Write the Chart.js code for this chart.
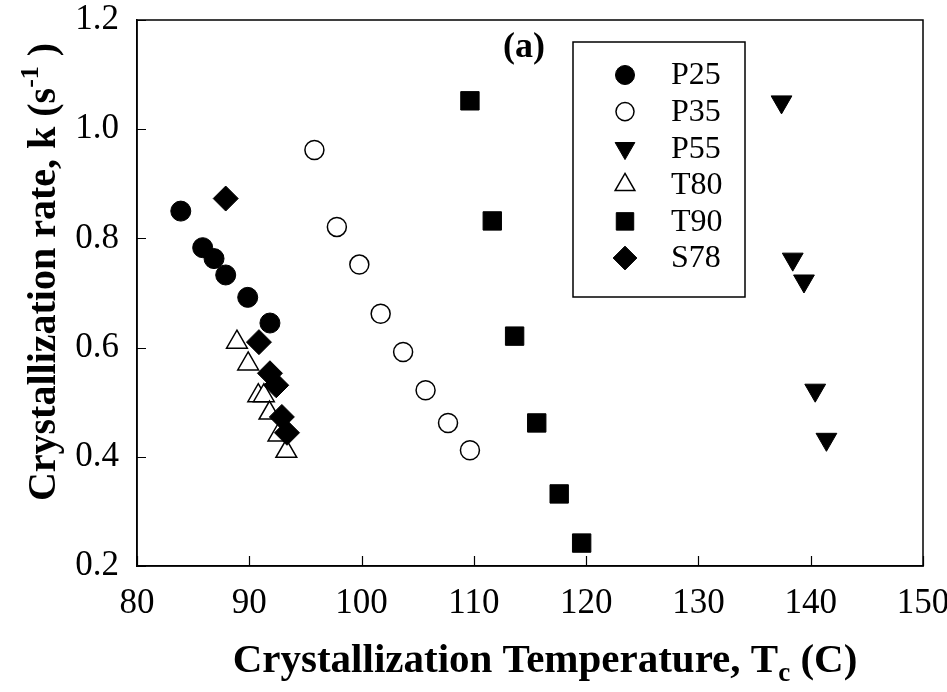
<!DOCTYPE html>
<html>
<head>
<meta charset="utf-8">
<script src="https://cdn.jsdelivr.net/npm/chart.js"></script>
<style>
  html, body { margin: 0; padding: 0; background: #fff; }
  #wrap { width: 947px; height: 692px; }
</style>
</head>
<body>
<div id="wrap"><canvas id="c" width="947" height="692"></canvas></div>
<script>
// ---- data ----
const seriesNames = ['P25', 'P35', 'P55', 'T80', 'T90', 'S78'];

const p25X = [83.9, 85.85, 86.86, 87.9, 89.86, 91.84];
const p25Y = [0.85, 0.783, 0.763, 0.733, 0.692, 0.645];

const p35X = [95.8, 97.8, 99.8, 101.7, 103.7, 105.7, 107.7, 109.65];
const p35Y = [0.962, 0.821, 0.752, 0.662, 0.592, 0.522, 0.462, 0.412];

const p55X = [137.4, 138.4, 139.4, 140.4, 141.4];
const p55Y = [1.05, 0.762, 0.722, 0.522, 0.432];

const t80X = [88.9, 89.9, 90.8, 91.3, 91.8, 92.6, 93.3];
const t80Y = [0.61, 0.57, 0.512, 0.512, 0.48, 0.44, 0.41];

const t90X = [109.65, 111.64, 113.63, 115.6, 117.6, 119.6];
const t90Y = [1.052, 0.832, 0.621, 0.462, 0.332, 0.242];

const s78X = [87.9, 90.86, 91.84, 92.4, 92.9, 93.36];
const s78Y = [0.873, 0.61, 0.553, 0.531, 0.473, 0.444];

const xTicks = [80, 90, 100, 110, 120, 130, 140, 150];
const yTicks = [0.2, 0.4, 0.6, 0.8, 1.0, 1.2];

const panelLabel = '(a)';

function pts(xs, ys) { return xs.map((x, i) => ({ x: x, y: ys[i] })); }

const FONT = '"Liberation Serif", "Times New Roman", serif';

const styles = [
  { pointStyle: 'circle',   radius: 10,   rotation: 0,   bg: '#000', bw: 1 },
  { pointStyle: 'circle',   radius: 9.5,  rotation: 0,   bg: '#fff', bw: 1.5 },
  { pointStyle: 'triangle', radius: 12,   rotation: 180, bg: '#000', bw: 1 },
  { pointStyle: 'triangle', radius: 12,   rotation: 0,   bg: '#fff', bw: 1.5 },
  { pointStyle: 'rect',     radius: 13,   rotation: 0,   bg: '#000', bw: 1 },
  { pointStyle: 'rectRot',  radius: 12.5, rotation: 0,   bg: '#000', bw: 1 }
];
const allData = [pts(p25X, p25Y), pts(p35X, p35Y), pts(p55X, p55Y), pts(t80X, t80Y), pts(t90X, t90Y), pts(s78X, s78Y)];

const datasets = seriesNames.map((name, i) => ({
  label: name,
  data: allData[i],
  showLine: false,
  pointStyle: styles[i].pointStyle,
  pointRadius: styles[i].radius,
  pointHoverRadius: styles[i].radius,
  pointRotation: styles[i].rotation,
  backgroundColor: styles[i].bg,
  borderColor: '#000',
  pointBorderWidth: styles[i].bw,
  borderWidth: styles[i].bw,
  order: seriesNames.length - i
}));

function drawSegments(ctx, segs, cx, baseY, align) {
  let total = 0;
  segs.forEach(s => { ctx.font = (s.bold ? 'bold ' : '') + s.size + 'px ' + FONT; s.w = ctx.measureText(s.text).width; total += s.w; });
  let x = align === 'center' ? cx - total / 2 : cx;
  ctx.textAlign = 'left';
  ctx.textBaseline = 'alphabetic';
  segs.forEach(s => {
    ctx.font = (s.bold ? 'bold ' : '') + s.size + 'px ' + FONT;
    ctx.fillText(s.text, x, baseY + (s.dy || 0));
    x += s.w;
  });
}

const decor = {
  id: 'decor',
  afterDraw(chart) {
    const ctx = chart.ctx;
    const a = chart.chartArea;
    const xs = chart.scales.x, ys = chart.scales.y;
    ctx.save();
    ctx.strokeStyle = '#000';
    ctx.fillStyle = '#000';
    ctx.lineWidth = 1.5;
    ctx.strokeRect(a.left, a.top, a.right - a.left, a.bottom - a.top);
    ctx.beginPath();
    xs.ticks.forEach(t => {
      const px = Math.round(xs.getPixelForValue(t.value)) + 0.5;
      ctx.moveTo(px, a.bottom); ctx.lineTo(px, a.bottom - 10);
    });
    ys.ticks.forEach(t => {
      const py = Math.round(ys.getPixelForValue(t.value)) + 0.5;
      ctx.moveTo(a.left, py); ctx.lineTo(a.left + 9, py);
    });
    ctx.lineWidth = 1.2;
    ctx.stroke();

    drawSegments(ctx, [
      { text: 'Crystallization Temperature, T', size: 41, bold: true },
      { text: 'c', size: 27, bold: true, dy: 9 },
      { text: ' (C)', size: 41, bold: true }
    ], 545, 672, 'center');

    ctx.save();
    ctx.translate(55, 272);
    ctx.rotate(-Math.PI / 2);
    drawSegments(ctx, [
      { text: 'Crystallization rate, k (s', size: 40, bold: true },
      { text: '-1', size: 26, bold: true, dy: -17 },
      { text: ' )', size: 40, bold: true }
    ], 0, 0, 'center');
    ctx.restore();

    ctx.font = 'bold 36px ' + FONT;
    ctx.textAlign = 'center';
    ctx.textBaseline = 'middle';
    ctx.fillText(panelLabel, 524, 48);

    const lx = 573, ly = 42, lw = 172, lh = 255;
    ctx.fillStyle = '#fff';
    ctx.fillRect(lx, ly, lw, lh);
    ctx.lineWidth = 1.5;
    ctx.strokeStyle = '#000';
    ctx.strokeRect(lx, ly, lw, lh);
    const rowY0 = 75, rowStep = 36.6;
    chart.data.datasets.forEach((ds, i) => {
      const y = rowY0 + i * rowStep;
      ctx.fillStyle = ds.backgroundColor;
      ctx.strokeStyle = '#000';
      ctx.lineWidth = ds.pointBorderWidth;
      Chart.helpers.drawPoint(ctx, {
        pointStyle: ds.pointStyle,
        radius: ds.pointRadius * 0.95,
        rotation: ds.pointRotation,
        borderWidth: ds.pointBorderWidth
      }, 625, y);
      ctx.fillStyle = '#000';
      ctx.font = '32px ' + FONT;
      ctx.textAlign = 'left';
      ctx.textBaseline = 'middle';
      ctx.fillText(ds.label, 671, y + 1);
    });
    ctx.restore();
  }
};

new Chart(document.getElementById('c'), {
  type: 'scatter',
  data: { datasets: datasets },
  options: {
    responsive: false,
    devicePixelRatio: 1,
    animation: false,
    events: [],
    layout: { padding: { top: 20, right: 24, left: 0, bottom: 0 } },
    plugins: { legend: { display: false }, tooltip: { enabled: false } },
    scales: {
      x: {
        type: 'linear',
        min: xTicks[0], max: xTicks[xTicks.length - 1],
        afterBuildTicks: s => { s.ticks = xTicks.map(v => ({ value: v })); },
        afterFit: s => { s.height = 126; s.paddingLeft = 0; s.paddingRight = 0; },
        grid: { display: true, drawOnChartArea: false, drawTicks: false },
        border: { display: true, color: '#000', width: 1.5 },
        ticks: { color: '#000', padding: 17, font: { family: FONT, size: 35 }, maxRotation: 0, autoSkip: false,
                 callback: v => String(v) }
      },
      y: {
        type: 'linear',
        min: yTicks[0], max: yTicks[yTicks.length - 1],
        afterBuildTicks: s => { s.ticks = yTicks.map(v => ({ value: v })); },
        afterFit: s => { s.width = 137; s.paddingTop = 0; s.paddingBottom = 0; },
        grid: { display: true, drawOnChartArea: false, drawTicks: false },
        border: { display: true, color: '#000', width: 1.5 },
        ticks: { color: '#000', padding: 18, font: { family: FONT, size: 35 }, autoSkip: false,
                 callback: v => Number(v).toFixed(1) }
      }
    }
  },
  plugins: [decor]
});
</script>
</body>
</html>
